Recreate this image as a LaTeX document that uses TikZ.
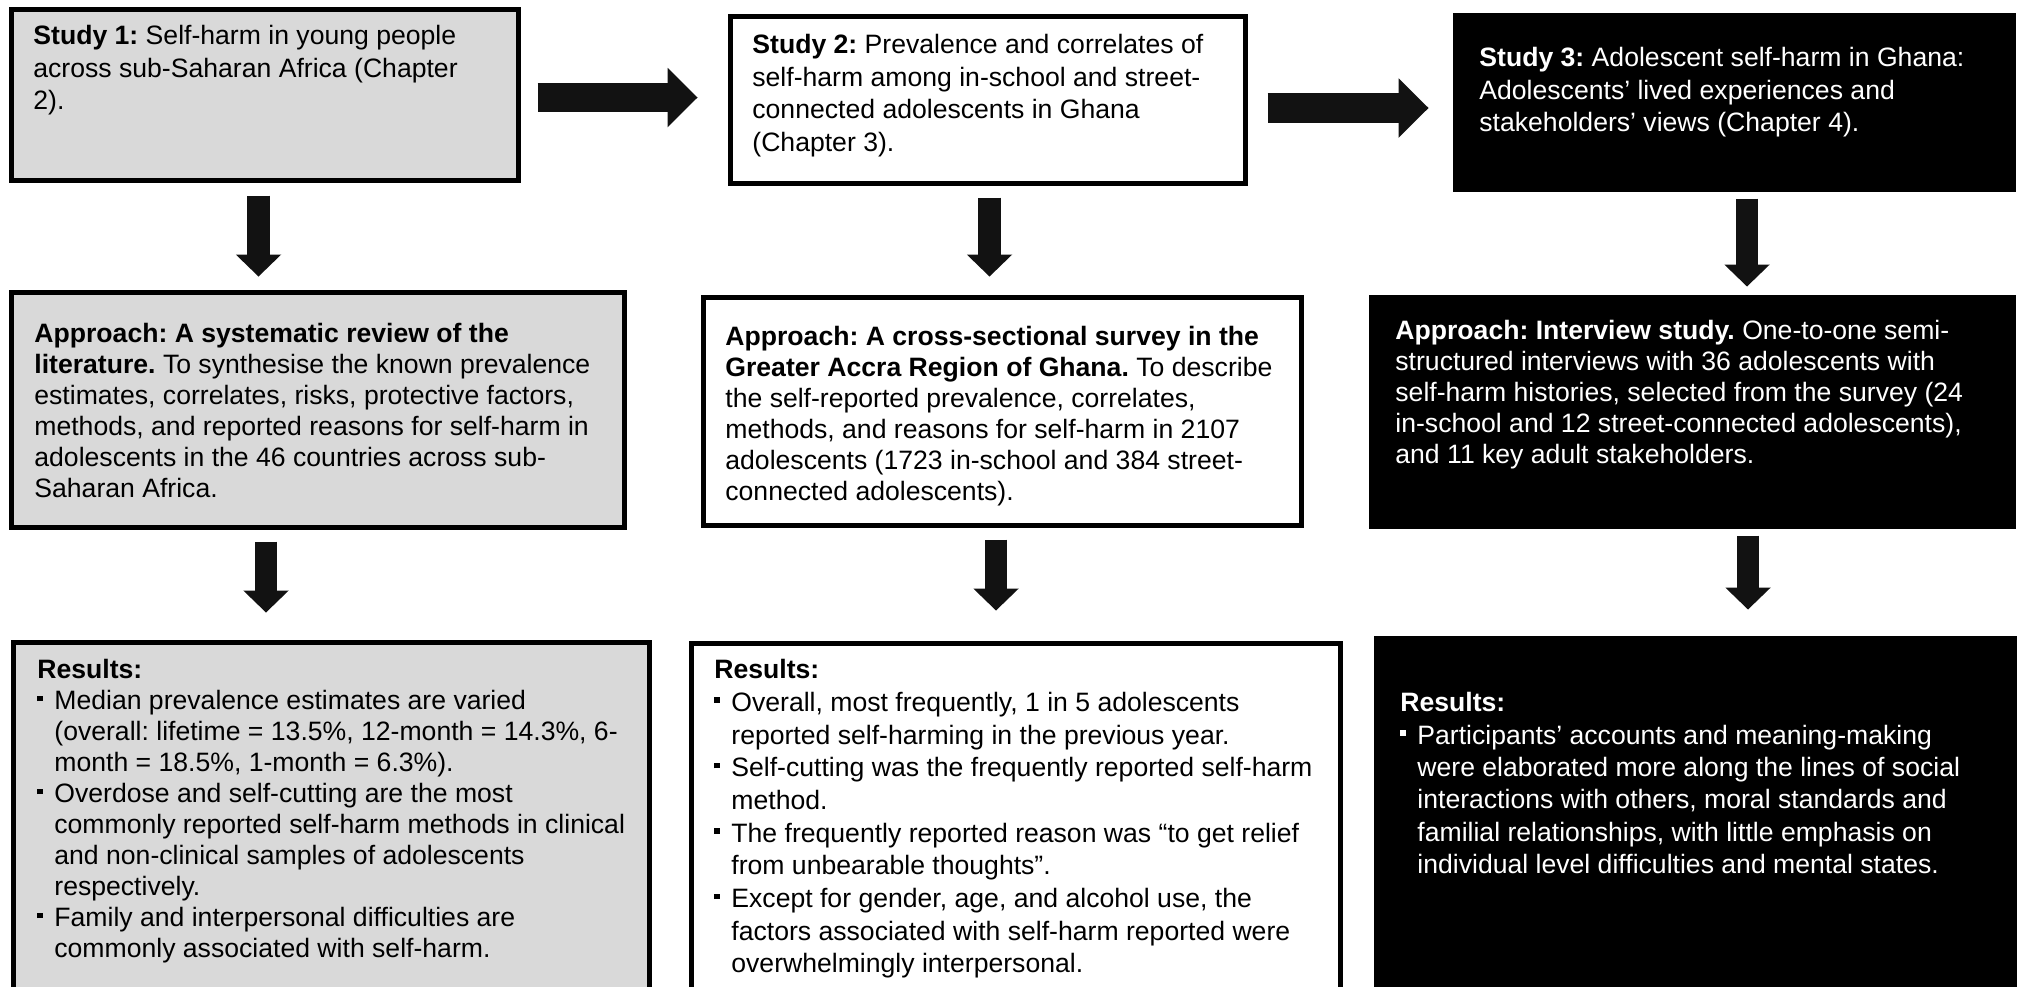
\documentclass[tikz,border=0pt]{standalone}
\usepackage{fontspec}
\setmainfont{Liberation Sans}
\usetikzlibrary{arrows.meta,fit}
\frenchspacing
% one drawing unit of the picture
\newdimen\pxu \pxu=0.5pt
\definecolor{boxgray}{HTML}{D9D9D9}
\definecolor{arrowc}{HTML}{121212}
% square bullet and hanging indent for result lists
\newcommand{\bul}{\makebox[17\pxu][l]{\raisebox{8.5\pxu}{\rule{5.5\pxu}{5.5\pxu}}}}
\newcommand{\ind}{\hspace*{17\pxu}}

\begin{document}
\begin{tikzpicture}[x=0.5pt,y=-0.5pt,
  panel/.style={inner sep=0pt, line width=2.5pt, draw=black},
  graypanel/.style={panel, fill=boxgray},
  whitepanel/.style={panel, fill=white},
  blackpanel/.style={inner sep=0pt, draw=black, line width=0.5pt, fill=black},
  txt/.style={inner sep=0pt, anchor=north west, align=left, text=black,
              font=\fontsize{13.3}{15.5}\selectfont},
  wtxt/.style={txt, text=white},
  loose/.style={font=\fontsize{13.3}{16.3}\selectfont},
  harrow/.style={draw=arrowc, line width=14.75pt,
                 -{Triangle[width=29.75pt,length=15pt,line width=0pt]}},
  varrow/.style={draw=arrowc, line width=11.25pt,
                 -{Triangle[width=22.75pt,length=11pt,line width=0pt]}},
]
\useasboundingbox (0,0) rectangle (2018,986);

% ---- row 1: the three studies
\node[graypanel,  fit={(11.5,9.5) (518.5,180.5)}] (s1) {};
\node[whitepanel, fit={(730.5,16.5) (1245.5,183.5)}] (s2) {};
\node[blackpanel, fit={(1453,13) (2015,191)}] (s3) {};

% ---- row 2: approaches
\node[graypanel,  fit={(11.5,292.5) (624.5,527.5)}] (a1) {};
\node[whitepanel, fit={(703.5,297.5) (1301.5,525.5)}] (a2) {};
\node[blackpanel, fit={(1369,295) (2015,528)}] (a3) {};

% ---- row 3: results
\node[graypanel,  fit={(13.5,642.5) (649.5,989)}] (r1) {};
\node[whitepanel, fit={(691.5,643.5) (1340.5,989)}] (r2) {};
\node[blackpanel, fit={(1374,636) (2016,989)}] (r3) {};

% ---- texts
\node[txt, loose] (s1t) at (33,25)
  {\textbf{Study 1:} Self-harm in young people\\
   across sub-Saharan Africa (Chapter\\
   2).};
\node[txt, loose] (s2t) at (752,34)
  {\textbf{Study 2:} Prevalence and correlates of\\
   self-harm among in-school and street-\\
   connected adolescents in Ghana\\
   (Chapter 3).};
\node[wtxt, loose] (s3t) at (1479,47)
  {\textbf{Study 3:} Adolescent self-harm in Ghana:\\
   Adolescents’ lived experiences and\\
   stakeholders’ views (Chapter 4).};

\node[txt] (a1t) at (34,323)
  {\textbf{Approach: A systematic review of the}\\
   \textbf{literature.} To synthesise the known prevalence\\
   estimates, correlates, risks, protective factors,\\
   methods, and reported reasons for self-harm in\\
   adolescents in the 46 countries across sub-\\
   Saharan Africa.};
\node[txt] (a2t) at (725,326)
  {\textbf{Approach: A cross-sectional survey in the}\\
   \textbf{Greater Accra Region of Ghana.} To describe\\
   the self-reported prevalence, correlates,\\
   methods, and reasons for self-harm in 2107\\
   adolescents (1723 in-school and 384 street-\\
   connected adolescents).};
\node[wtxt] (a3t) at (1395,320)
  {\textbf{Approach: Interview study.} One-to-one semi-\\
   structured interviews with 36 adolescents with\\
   self-harm histories, selected from the survey (24\\
   in-school and 12 street-connected adolescents),\\
   and 11 key adult stakeholders.};

\node[txt] (r1t) at (37,659)
  {\textbf{Results:}\\
   \bul Median prevalence estimates are varied\\
   \ind (overall: lifetime = 13.5\%, 12-month = 14.3\%, 6-\\
   \ind month = 18.5\%, 1-month = 6.3\%).\\
   \bul Overdose and self-cutting are the most\\
   \ind commonly reported self-harm methods in clinical\\
   \ind and non-clinical samples of adolescents\\
   \ind respectively.\\
   \bul Family and interpersonal difficulties are\\
   \ind commonly associated with self-harm.};
\node[txt, font=\fontsize{13.3}{16.35}\selectfont] (r2t) at (714,659)
  {\textbf{Results:}\\
   \bul Overall, most frequently, 1 in 5 adolescents\\
   \ind reported self-harming in the previous year.\\
   \bul Self-cutting was the frequently reported self-harm\\
   \ind method.\\
   \bul The frequently reported reason was “to get relief\\
   \ind from unbearable thoughts”.\\
   \bul Except for gender, age, and alcohol use, the\\
   \ind factors associated with self-harm reported were\\
   \ind overwhelmingly interpersonal.};
\node[wtxt, font=\fontsize{13.3}{16.2}\selectfont] (r3t) at (1400,692)
  {\textbf{Results:}\\
   \bul Participants’ accounts and meaning-making\\
   \ind were elaborated more along the lines of social\\
   \ind interactions with others, moral standards and\\
   \ind familial relationships, with little emphasis on\\
   \ind individual level difficulties and mental states.};

% ---- block arrows between the studies
\draw[harrow] ([shift={(16.5,2.5)}]s1.east) -- ([shift={(-30.5,-2.5)}]s2.west);
\draw[harrow] ([shift={(19.5,8)}]s2.east) -- ([shift={(-24,6)}]s3.west);

% ---- block arrows down each column
\draw[varrow] ([shift={(-6.5,12.5)}]s1.south) -- ([shift={(-59.5,-13.5)}]a1.north);
\draw[varrow] ([shift={(1.5,11.5)}]s2.south) -- ([shift={(-13,-18.5)}]a2.north);
\draw[varrow] ([shift={(13,7)}]s3.south) -- ([shift={(55,-8)}]a3.north);

\draw[varrow] ([shift={(-52,11.5)}]a1.south) -- ([shift={(-65.5,-27.5)}]r1.north);
\draw[varrow] ([shift={(-6.5,11.5)}]a2.south) -- ([shift={(-20,-30.5)}]r2.north);
\draw[varrow] ([shift={(56,7)}]a3.south) -- ([shift={(53,-26)}]r3.north);
\end{tikzpicture}
\end{document}
